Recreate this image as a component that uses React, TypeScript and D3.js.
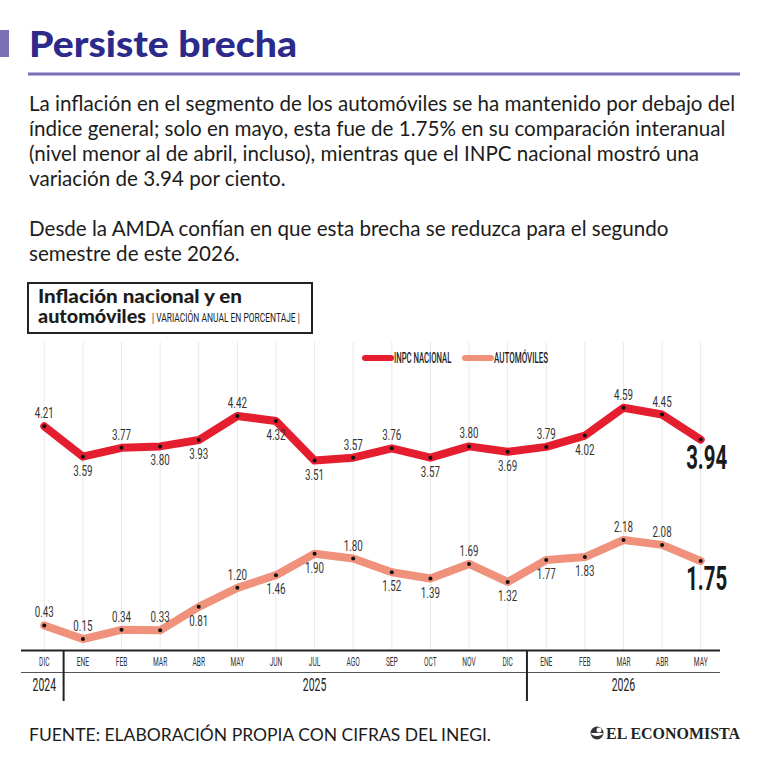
import React from 'react';
import * as d3 from 'd3';

// Meses del eje (dic 2024 a may 2026)
const months = ['DIC', 'ENE', 'FEB', 'MAR', 'ABR', 'MAY', 'JUN', 'JUL', 'AGO', 'SEP', 'OCT', 'NOV', 'DIC', 'ENE', 'FEB', 'MAR', 'ABR', 'MAY'];

// Variación anual, %
const inpc = [4.21, 3.59, 3.77, 3.8, 3.93, 4.42, 4.32, 3.51, 3.57, 3.76, 3.57, 3.8, 3.69, 3.79, 4.02, 4.59, 4.45, 3.94];
const autos = [0.43, 0.15, 0.34, 0.33, 0.81, 1.2, 1.46, 1.9, 1.8, 1.52, 1.39, 1.69, 1.32, 1.77, 1.83, 2.18, 2.08, 1.75];

// dónde va cada etiqueta respecto al punto
const inpcLabelSide = ['up', 'down', 'up', 'down', 'down', 'up', 'down', 'down', 'up', 'up', 'down', 'up', 'down', 'up', 'down', 'up', 'up', 'last'];
const autosLabelSide = ['up', 'up', 'up', 'up', 'down', 'up', 'down', 'down', 'up', 'down', 'down', 'up', 'down', 'down', 'down', 'up', 'up', 'last'];

// años: índice central de la etiqueta y primer mes de cada año
const years = ['2024', '2025', '2026'];
const yearCenter = [0, 7, 15];
const yearStart = [0, 1, 13];

const seriesNames = ['INPC NACIONAL', 'AUTOMÓVILES'];

const bodyLines = [
  'La inflación en el segmento de los automóviles se ha mantenido por debajo del',
  'índice general; solo en mayo, esta fue de 1.75% en su comparación interanual',
  '(nivel menor al de abril, incluso), mientras que el INPC nacional mostró una',
  'variación de 3.94 por ciento.',
];
const bodyLines2 = [
  'Desde la AMDA confían en que esta brecha se reduzca para el segundo',
  'semestre de este 2026.',
];

const RED = '#e41e2e';
const SALMON = '#ef917b';
const INK = '#1c1c1c';
const PURPLE = '#7a70b6';
const NAVY = '#2c2a8a';
const COND = 'Roboto, "DejaVu Sans", sans-serif';
const BODY = 'Lato, "Open Sans", sans-serif';

// texto estrecho: escala horizontal sobre una fuente normal
const Cond = ({ x, y, sx = 0.7, size = 13, anchor = 'middle', weight = 400, fill = '#333', children }: any) => (
  <g transform={`translate(${x},${y}) scale(${sx},1)`}>
    <text textAnchor={anchor} fontSize={size} fontWeight={weight} fill={fill} fontFamily={COND}>
      {children}
    </text>
  </g>
);

export default function App() {
  const W = 768;
  const H = 768;

  const x = d3.scalePoint<number>().domain(d3.range(months.length)).range([44.3, 700.7]);
  const yInpc = d3.scaleLinear().domain([3.5, 4.6]).range([461.1, 407.2]);
  const yAutos = d3.scaleLinear().domain([0, 2.5]).range([646.4, 524.4]);

  const line = (ys: d3.ScaleLinear<number, number>) =>
    d3.line<number>().x((_, i) => x(i)!).y((d) => ys(d));

  const axisY = 650.5;
  const axisY2 = 672.5;
  const axisL = 21;
  const axisR = 720;

  const renderSeries = (vals: number[], ys: any, color: string, sides: string[]) => (
    <g>
      <path d={line(ys)(vals)!} fill="none" stroke={color} strokeWidth={8} strokeLinejoin="round" strokeLinecap="round" />
      {vals.map((v, i) => (
        <circle key={i} cx={x(i)} cy={ys(v)} r={2} fill="#111" />
      ))}
      {vals.map((v, i) => {
        const side = sides[i];
        if (side === 'last') {
          return (
            <Cond key={i} x={x(i)! + 6} y={ys(v) + 29} size={33} sx={0.62} weight={700} fill="#1a1a1a">
              {v.toFixed(2)}
            </Cond>
          );
        }
        const dy = side === 'up' ? -8 : 19;
        return (
          <Cond key={i} x={x(i)} y={ys(v) + dy} size={14} sx={0.7} fill="#333">
            {v.toFixed(2)}
          </Cond>
        );
      })}
    </g>
  );

  return (
    <svg width={W} height={H} style={{ position: 'absolute', left: 0, top: 0, background: '#fff' }}>
      <rect width={W} height={H} fill="#fff" />

      {/* título */}
      <rect x={0} y={30} width={9} height={27} fill={PURPLE} />
      <text x={29} y={57} fontFamily={BODY} fontWeight={900} fontSize={36} fill={NAVY} textLength={268} lengthAdjust="spacingAndGlyphs">
        Persiste brecha
      </text>
      <line x1={28} x2={740} y1={74} y2={74} stroke={PURPLE} strokeWidth={3} />

      {/* texto */}
      {bodyLines.map((t, i) => (
        <text key={i} x={29} y={111 + i * 25} fontFamily={BODY} fontSize={20.6} fill={INK}>
          {t}
        </text>
      ))}
      {bodyLines2.map((t, i) => (
        <text key={i} x={29} y={236 + i * 25} fontFamily={BODY} fontSize={20.6} fill={INK}>
          {t}
        </text>
      ))}

      {/* recuadro del título del gráfico */}
      <rect x={28} y={283} width={284} height={50} fill="none" stroke="#222" strokeWidth={2} />
      <text x={38} y={303} fontFamily={BODY} fontWeight={900} fontSize={18} fill={INK} textLength={204} lengthAdjust="spacingAndGlyphs">
        Inflación nacional y en
      </text>
      <text x={38} y={323} fontFamily={BODY} fontWeight={900} fontSize={18} fill={INK} textLength={108} lengthAdjust="spacingAndGlyphs">
        automóviles
      </text>
      <Cond x={152} y={322} size={13} sx={0.65} anchor="start" fill={INK}>
        | VARIACIÓN ANUAL EN PORCENTAJE |
      </Cond>

      {/* rejilla vertical */}
      {months.map((_, i) => (
        <line key={i} x1={x(i)} x2={x(i)} y1={342} y2={axisY} stroke="#e9e9e9" strokeWidth={1} />
      ))}

      {/* leyenda */}
      <line x1={365} x2={391} y1={358} y2={358} stroke={RED} strokeWidth={6} strokeLinecap="round" />
      <Cond x={394} y={363} size={14} sx={0.55} anchor="start" weight={500} fill={INK}>
        {seriesNames[0]}
      </Cond>
      <line x1={465} x2={491} y1={358} y2={358} stroke={SALMON} strokeWidth={6} strokeLinecap="round" />
      <Cond x={494} y={363} size={14} sx={0.57} anchor="start" weight={500} fill={INK}>
        {seriesNames[1]}
      </Cond>

      {renderSeries(inpc, yInpc, RED, inpcLabelSide)}
      {renderSeries(autos, yAutos, SALMON, autosLabelSide)}

      {/* eje de meses y años */}
      <line x1={axisL} x2={axisR} y1={axisY} y2={axisY} stroke="#222" strokeWidth={2} />
      <line x1={axisL} x2={axisR} y1={axisY2} y2={axisY2} stroke="#555" strokeWidth={1} />
      {yearStart.slice(1).map((s, i) => {
        const sx = (x(s - 1)! + x(s)!) / 2;
        return <line key={i} x1={sx} x2={sx} y1={axisY} y2={701} stroke="#222" strokeWidth={2} />;
      })}
      {months.map((m, i) => (
        <Cond key={i} x={x(i)} y={666} size={12} sx={0.55} fill="#333">
          {m}
        </Cond>
      ))}
      {years.map((yr, i) => (
        <Cond key={yr} x={x(yearCenter[i])} y={691} size={18} sx={0.58} fill="#222">
          {yr}
        </Cond>
      ))}

      {/* pie */}
      <text x={29} y={741} fontFamily={BODY} fontSize={17} fill={INK} textLength={462} lengthAdjust="spacingAndGlyphs">
        FUENTE: ELABORACIÓN PROPIA CON CIFRAS DEL INEGI.
      </text>
      <g>
        <circle cx={597} cy={733} r={6.5} fill="#333" />
        <path d="M591,733 a6,3 0 0,0 12,0" fill="#fff" />
        <circle cx={599} cy={730} r={2.5} fill="#fff" />
        <text x={606} y={739} fontFamily='"Liberation Serif", serif' fontWeight={700} fontSize={17} fill="#222" textLength={134} lengthAdjust="spacingAndGlyphs">
          EL ECONOMISTA
        </text>
      </g>
    </svg>
  );
}
